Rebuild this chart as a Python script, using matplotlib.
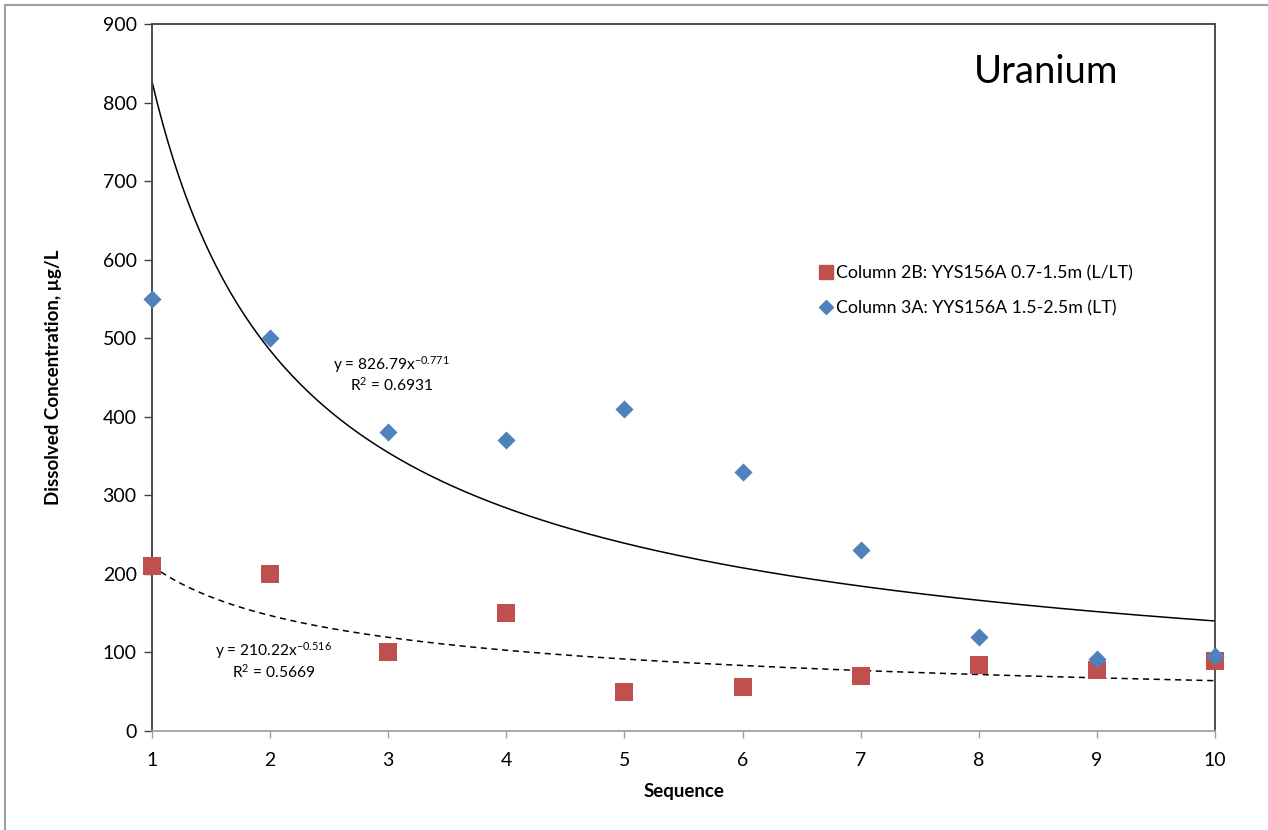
import numpy as np
import matplotlib
matplotlib.use("Agg")
import matplotlib.pyplot as plt
from matplotlib.lines import Line2D

plt.rcParams['font.family'] = ['Lato', 'DejaVu Sans']
plt.rcParams['mathtext.fontset'] = 'custom'
plt.rcParams['mathtext.rm'] = 'Lato'
plt.rcParams['mathtext.it'] = 'Lato'

# Measured concentrations per sequence step
sequence = [1, 2, 3, 4, 5, 6, 7, 8, 9, 10]
col_2b = [210, 200, 101, 150, 50, 56, 70, 84, 78, 89]
col_3a = [550, 500, 380, 370, 410, 330, 230, 120, 92, 96]

label_2b = "Column 2B: YYS156A 0.7-1.5m (L/LT)"
label_3a = "Column 3A: YYS156A 1.5-2.5m (LT)"

# Power-law fits y = a * x^b
fit_3a = (826.79, -0.771, 0.6931)
fit_2b = (210.22, -0.516, 0.5669)

y_ticks = [0, 100, 200, 300, 400, 500, 600, 700, 800, 900]

fig = plt.figure(figsize=(12.68, 8.30), dpi=100)
ax = fig.add_axes([152 / 1268, 1 - 731 / 830, (1215 - 152) / 1268, (731 - 24) / 830])

xs = np.linspace(1, 10, 400)
ax.plot(xs, fit_3a[0] * xs ** fit_3a[1], color='black', lw=1.1, zorder=2)
ax.plot(xs, fit_2b[0] * xs ** fit_2b[1], color='black', lw=1.1, ls=(0, (4, 3)), zorder=2)

ax.scatter(sequence, col_2b, marker='s', s=150, color='#C0504D', zorder=3,
           linewidths=0, clip_on=False)
ax.scatter(sequence, col_3a, marker='D', s=85, color='#4F81BD', zorder=4,
           linewidths=0, clip_on=False)

ax.set_xlim(1, 10)
ax.set_ylim(0, 900)
ax.set_xticks(sequence)
ax.set_yticks(y_ticks)
ax.tick_params(axis='y', direction='out', length=6, width=1, color='#404040', labelsize=14, pad=5)
ax.tick_params(axis='x', direction='out', length=5, width=1, color='#A0A0A0', labelsize=14, pad=10)

for side in ('left', 'top', 'right'):
    ax.spines[side].set_color('#404040')
    ax.spines[side].set_linewidth(1.3)
ax.spines['bottom'].set_color('#A0A0A0')
ax.spines['bottom'].set_linewidth(1.3)

ax.set_xlabel("Sequence", fontsize=13.5, fontweight='bold', labelpad=10)
ax.set_ylabel("Dissolved Concentration, µg/L", fontsize=13.5, fontweight='bold', labelpad=29)

ax.text(0.841, 0.932, "Uranium", transform=ax.transAxes, fontsize=27.5, ha='center', va='center')

ax.text(3.03, 466, "y = 826.79x$^{-0.771}$", fontsize=11.2, ha='center', va='center')
ax.text(3.03, 441, "R$^{2}$ = 0.6931", fontsize=11.2, ha='center', va='center')
ax.text(2.03, 102, "y = 210.22x$^{-0.516}$", fontsize=11.2, ha='center', va='center')
ax.text(2.03, 76, "R$^{2}$ = 0.5669", fontsize=11.2, ha='center', va='center')

handles = [
    Line2D([], [], marker='s', ls='none', color='#C0504D', markersize=10),
    Line2D([], [], marker='D', ls='none', color='#4F81BD', markersize=7),
]
ax.legend(handles, [label_2b, label_3a], loc='upper left',
          bbox_to_anchor=((812 - 152) / 1063, (731 - 258) / 707),
          frameon=False, fontsize=12.8, handlelength=0.8, handletextpad=0.15,
          labelspacing=1.08, borderaxespad=0)

# Outer chart border (top and left edges)
fig.add_artist(Line2D([5 / 1268, 1], [1 - 5 / 830, 1 - 5 / 830], transform=fig.transFigure, color='#A0A0A0', lw=1.5))
fig.add_artist(Line2D([5 / 1268, 5 / 1268], [0, 1 - 5 / 830], transform=fig.transFigure, color='#A0A0A0', lw=1.5))

fig.savefig("out.png", dpi=100)
